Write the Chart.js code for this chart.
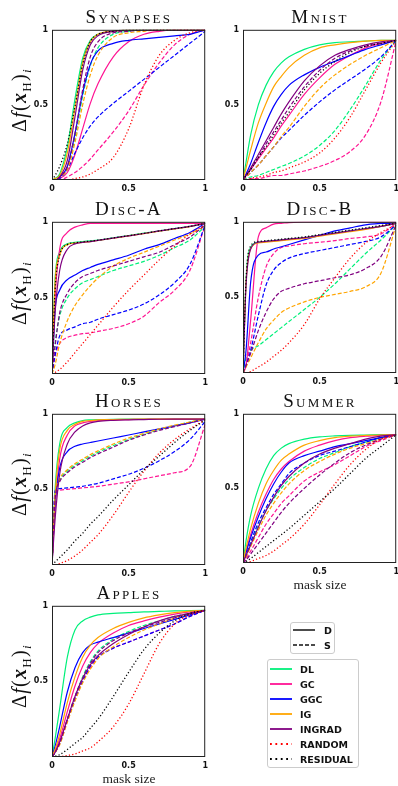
<!DOCTYPE html>
<html>
<head>
<meta charset="utf-8">
<script src="https://cdn.jsdelivr.net/npm/chart.js@4"></script>
<style>
  html, body { margin: 0; padding: 0; background: #fff; }
  body { width: 398px; height: 786px; position: relative; overflow: hidden; }
  .abs { position: absolute; }
  .title { font-family: "Liberation Serif", serif; font-size: 19px; line-height: 19px;
           font-variant: small-caps; letter-spacing: 2.3px; text-align: center; color: #111; white-space: nowrap; }
  .ylab { font-family: "Liberation Serif", serif; font-size: 20px; line-height: 22px; width: 100px; height: 22px;
          letter-spacing: 1.3px; text-align: center; transform: rotate(-90deg); white-space: nowrap; color: #111; }
  .ylab sub { font-size: 13px; }
  .xlab { font-family: "Liberation Serif", serif; font-size: 13.5px; line-height: 13px; text-align: center; color: #222; }
  .legend { border: 1px solid #ccc; border-radius: 3px; background: #fff;
            font-family: "DejaVu Sans", sans-serif; font-weight: bold; font-size: 9.5px; color: #111; }
  .legend .row { position: absolute; display: flex; align-items: center; height: 12px; }
  .legend svg { display: block; }
</style>
</head>
<body>
<script>
// x positions (mask size) the curves were read at
const X_GRID = [0, 0.02, 0.05, 0.1, 0.15, 0.2, 0.25, 0.3, 0.4, 0.5, 0.6, 0.7, 0.8, 0.9, 1];
const X_TICKS = [0, 0.5, 1];
const Y_TICKS = [0.5, 1];

const METHODS = ['DL', 'GC', 'GGC', 'IG', 'INGRAD', 'RANDOM', 'RESIDUAL'];
// row order used in every panel array below
const SERIES = [
    ['DL', 'D'], ['DL', 'S'], ['GC', 'D'], ['GC', 'S'], ['GGC', 'D'], ['GGC', 'S'],
    ['IG', 'D'], ['IG', 'S'], ['INGRAD', 'D'], ['INGRAD', 'S'], ['RANDOM', 'R'], ['RESIDUAL', 'R']
];

const synapses = [
    [0, 0.01, 0.04, 0.22, 0.54, 0.81, 0.93, 0.97, 0.99, 1, 1, 1, 1, 1, 1],
    [0, 0, 0.02, 0.08, 0.28, 0.56, 0.76, 0.88, 0.97, 0.99, 1, 1, 1, 1, 1],
    [0, 0, 0.01, 0.05, 0.17, 0.34, 0.51, 0.64, 0.82, 0.92, 0.97, 0.99, 1, 1, 1],
    [0, 0, 0, 0.02, 0.05, 0.09, 0.14, 0.2, 0.32, 0.46, 0.63, 0.78, 0.9, 0.97, 1],
    [0, 0, 0.02, 0.09, 0.31, 0.58, 0.77, 0.86, 0.91, 0.93, 0.94, 0.95, 0.96, 0.97, 1],
    [0, 0, 0.01, 0.07, 0.18, 0.28, 0.36, 0.42, 0.51, 0.59, 0.67, 0.75, 0.83, 0.91, 0.99],
    [0, 0.01, 0.03, 0.18, 0.48, 0.78, 0.92, 0.97, 0.99, 1, 1, 1, 1, 1, 1],
    [0, 0, 0.02, 0.07, 0.25, 0.5, 0.7, 0.83, 0.95, 0.98, 0.99, 1, 1, 1, 1],
    [0, 0, 0.02, 0.13, 0.42, 0.73, 0.9, 0.96, 0.99, 1, 1, 1, 1, 1, 1],
    [0, 0, 0.02, 0.09, 0.31, 0.6, 0.82, 0.92, 0.98, 0.99, 1, 1, 1, 1, 1],
    [0, 0, 0, 0, 0.01, 0.02, 0.04, 0.07, 0.15, 0.34, 0.63, 0.83, 0.93, 0.98, 1],
    [0, 0.03, 0.09, 0.24, 0.49, 0.77, 0.92, 0.97, 0.99, 1, 1, 1, 1, 1, 1]
];

const mnist = [
    [0, 0.12, 0.3, 0.5, 0.63, 0.72, 0.78, 0.82, 0.87, 0.9, 0.915, 0.92, 0.925, 0.93, 0.93],
    [0, 0.01, 0.02, 0.03, 0.05, 0.07, 0.09, 0.11, 0.16, 0.23, 0.33, 0.47, 0.63, 0.8, 0.93],
    [0, 0.03, 0.07, 0.14, 0.21, 0.28, 0.36, 0.43, 0.57, 0.68, 0.77, 0.83, 0.88, 0.91, 0.93],
    [0, 0, 0.01, 0.01, 0.02, 0.03, 0.03, 0.04, 0.06, 0.09, 0.13, 0.19, 0.3, 0.52, 0.93],
    [0, 0.04, 0.11, 0.25, 0.38, 0.49, 0.57, 0.63, 0.7, 0.75, 0.79, 0.83, 0.87, 0.9, 0.93],
    [0, 0.02, 0.05, 0.1, 0.16, 0.22, 0.28, 0.33, 0.43, 0.52, 0.6, 0.67, 0.74, 0.82, 0.93],
    [0, 0.08, 0.2, 0.38, 0.51, 0.62, 0.69, 0.75, 0.83, 0.88, 0.9, 0.915, 0.925, 0.93, 0.93],
    [0, 0.02, 0.05, 0.1, 0.16, 0.22, 0.29, 0.35, 0.49, 0.61, 0.7, 0.77, 0.83, 0.88, 0.93],
    [0, 0.03, 0.08, 0.17, 0.26, 0.35, 0.44, 0.52, 0.66, 0.76, 0.83, 0.87, 0.9, 0.92, 0.93],
    [0, 0.03, 0.07, 0.15, 0.24, 0.32, 0.4, 0.48, 0.62, 0.73, 0.81, 0.86, 0.89, 0.91, 0.93],
    [0, 0, 0.01, 0.02, 0.03, 0.05, 0.06, 0.08, 0.12, 0.18, 0.28, 0.42, 0.6, 0.78, 0.93],
    [0, 0.03, 0.07, 0.15, 0.22, 0.3, 0.38, 0.45, 0.6, 0.71, 0.79, 0.85, 0.89, 0.91, 0.93]
];

const discA = [
    [0, 0.62, 0.8, 0.855, 0.865, 0.87, 0.875, 0.88, 0.895, 0.91, 0.925, 0.94, 0.955, 0.97, 0.99],
    [0, 0.2, 0.38, 0.5, 0.56, 0.6, 0.62, 0.64, 0.68, 0.71, 0.74, 0.78, 0.83, 0.88, 0.97],
    [0, 0.5, 0.82, 0.93, 0.965, 0.98, 0.99, 0.99, 0.99, 0.99, 0.99, 0.99, 0.99, 0.99, 0.99],
    [0, 0.12, 0.2, 0.24, 0.255, 0.265, 0.27, 0.28, 0.3, 0.33, 0.38, 0.47, 0.55, 0.68, 0.98],
    [0, 0.42, 0.55, 0.62, 0.65, 0.68, 0.7, 0.72, 0.75, 0.78, 0.82, 0.85, 0.89, 0.93, 0.99],
    [0, 0.12, 0.25, 0.29, 0.31, 0.33, 0.34, 0.36, 0.39, 0.42, 0.46, 0.52, 0.6, 0.72, 0.98],
    [0, 0.6, 0.78, 0.85, 0.86, 0.865, 0.87, 0.877, 0.892, 0.907, 0.922, 0.938, 0.953, 0.968, 0.99],
    [0, 0.06, 0.2, 0.35, 0.45, 0.52, 0.58, 0.63, 0.71, 0.76, 0.8, 0.84, 0.88, 0.92, 0.97],
    [0, 0.4, 0.68, 0.82, 0.855, 0.865, 0.87, 0.878, 0.893, 0.908, 0.923, 0.94, 0.955, 0.97, 0.99],
    [0, 0.18, 0.4, 0.53, 0.6, 0.64, 0.66, 0.68, 0.71, 0.74, 0.77, 0.8, 0.85, 0.9, 0.98],
    [0, 0.01, 0.03, 0.08, 0.14, 0.2, 0.26, 0.32, 0.44, 0.55, 0.65, 0.75, 0.84, 0.92, 0.98],
    [0, 0.55, 0.78, 0.85, 0.862, 0.868, 0.873, 0.879, 0.894, 0.909, 0.924, 0.94, 0.955, 0.97, 0.99]
];

const discB = [
    [0, 0.62, 0.83, 0.865, 0.87, 0.875, 0.88, 0.885, 0.895, 0.91, 0.925, 0.94, 0.955, 0.97, 0.99],
    [0, 0.1, 0.15, 0.18, 0.22, 0.26, 0.3, 0.34, 0.42, 0.5, 0.59, 0.69, 0.79, 0.88, 0.98],
    [0, 0.05, 0.35, 0.9, 0.96, 0.985, 0.99, 0.995, 1, 1, 1, 1, 1, 1, 1],
    [0, 0.05, 0.2, 0.5, 0.7, 0.79, 0.83, 0.84, 0.855, 0.865, 0.875, 0.89, 0.9, 0.92, 0.99],
    [0, 0.15, 0.6, 0.78, 0.8, 0.82, 0.835, 0.85, 0.88, 0.91, 0.94, 0.96, 0.98, 0.99, 0.99],
    [0, 0.05, 0.15, 0.38, 0.58, 0.68, 0.73, 0.76, 0.79, 0.81, 0.83, 0.85, 0.87, 0.9, 0.98],
    [0, 0.6, 0.82, 0.86, 0.865, 0.87, 0.875, 0.88, 0.89, 0.905, 0.92, 0.935, 0.95, 0.97, 0.99],
    [0, 0.04, 0.1, 0.2, 0.29, 0.35, 0.4, 0.43, 0.47, 0.5, 0.52, 0.54, 0.57, 0.66, 0.98],
    [0, 0.58, 0.82, 0.865, 0.87, 0.875, 0.88, 0.885, 0.895, 0.91, 0.925, 0.94, 0.955, 0.97, 0.99],
    [0, 0.05, 0.13, 0.28, 0.4, 0.49, 0.54, 0.56, 0.59, 0.61, 0.63, 0.65, 0.69, 0.77, 0.98],
    [0, 0, 0.01, 0.04, 0.07, 0.11, 0.15, 0.2, 0.32, 0.49, 0.63, 0.76, 0.86, 0.93, 0.98],
    [0, 0.62, 0.84, 0.87, 0.875, 0.88, 0.885, 0.89, 0.9, 0.915, 0.93, 0.945, 0.96, 0.975, 0.99]
];

const horses = [
    [0, 0.5, 0.8, 0.91, 0.94, 0.955, 0.96, 0.962, 0.964, 0.965, 0.965, 0.965, 0.965, 0.965, 0.965],
    [0, 0.44, 0.56, 0.62, 0.66, 0.69, 0.72, 0.745, 0.79, 0.83, 0.865, 0.895, 0.92, 0.945, 0.965],
    [0, 0.38, 0.7, 0.86, 0.92, 0.94, 0.95, 0.955, 0.96, 0.962, 0.964, 0.965, 0.965, 0.965, 0.965],
    [0, 0.47, 0.495, 0.5, 0.505, 0.51, 0.515, 0.52, 0.535, 0.55, 0.57, 0.59, 0.61, 0.65, 0.93],
    [0, 0.4, 0.64, 0.75, 0.785, 0.8, 0.81, 0.82, 0.84, 0.86, 0.88, 0.9, 0.92, 0.94, 0.965],
    [0, 0.49, 0.505, 0.51, 0.515, 0.52, 0.53, 0.54, 0.57, 0.6, 0.64, 0.69, 0.75, 0.83, 0.95],
    [0, 0.45, 0.76, 0.89, 0.93, 0.95, 0.955, 0.96, 0.962, 0.964, 0.965, 0.965, 0.965, 0.965, 0.965],
    [0, 0.45, 0.57, 0.63, 0.67, 0.7, 0.73, 0.755, 0.8, 0.84, 0.87, 0.9, 0.925, 0.945, 0.965],
    [0, 0.3, 0.6, 0.8, 0.88, 0.92, 0.94, 0.95, 0.957, 0.96, 0.962, 0.964, 0.965, 0.965, 0.965],
    [0, 0.43, 0.55, 0.61, 0.65, 0.68, 0.71, 0.735, 0.78, 0.825, 0.86, 0.89, 0.915, 0.94, 0.965],
    [0, 0, 0.01, 0.03, 0.06, 0.1, 0.15, 0.2, 0.33, 0.48, 0.62, 0.74, 0.83, 0.9, 0.96],
    [0, 0.02, 0.05, 0.1, 0.16, 0.21, 0.27, 0.32, 0.43, 0.53, 0.63, 0.72, 0.81, 0.89, 0.96]
];

const summer = [
    [0, 0.15, 0.32, 0.5, 0.63, 0.72, 0.77, 0.8, 0.83, 0.845, 0.852, 0.856, 0.858, 0.86, 0.86],
    [0, 0.05, 0.13, 0.25, 0.35, 0.43, 0.5, 0.56, 0.64, 0.7, 0.74, 0.78, 0.81, 0.84, 0.86],
    [0, 0.08, 0.19, 0.34, 0.46, 0.56, 0.63, 0.68, 0.75, 0.79, 0.82, 0.84, 0.85, 0.856, 0.86],
    [0, 0.03, 0.08, 0.17, 0.26, 0.33, 0.4, 0.45, 0.55, 0.61, 0.66, 0.72, 0.78, 0.82, 0.86],
    [0, 0.07, 0.17, 0.31, 0.43, 0.53, 0.61, 0.67, 0.72, 0.75, 0.78, 0.8, 0.82, 0.84, 0.86],
    [0, 0.05, 0.14, 0.27, 0.37, 0.46, 0.53, 0.6, 0.67, 0.72, 0.75, 0.78, 0.81, 0.84, 0.86],
    [0, 0.1, 0.23, 0.4, 0.53, 0.62, 0.69, 0.73, 0.79, 0.82, 0.84, 0.85, 0.855, 0.858, 0.86],
    [0, 0.04, 0.11, 0.22, 0.32, 0.4, 0.47, 0.53, 0.62, 0.68, 0.73, 0.77, 0.8, 0.83, 0.86],
    [0, 0.05, 0.12, 0.24, 0.35, 0.44, 0.52, 0.58, 0.67, 0.73, 0.77, 0.8, 0.83, 0.85, 0.86],
    [0, 0.02, 0.06, 0.13, 0.2, 0.27, 0.34, 0.4, 0.5, 0.59, 0.67, 0.74, 0.79, 0.83, 0.86],
    [0, 0, 0.01, 0.03, 0.05, 0.08, 0.12, 0.16, 0.26, 0.39, 0.53, 0.66, 0.76, 0.83, 0.86],
    [0, 0.01, 0.03, 0.07, 0.11, 0.15, 0.19, 0.23, 0.32, 0.41, 0.5, 0.6, 0.7, 0.78, 0.86]
];

const apples = [
    [0, 0.12, 0.32, 0.66, 0.84, 0.9, 0.925, 0.94, 0.95, 0.955, 0.96, 0.963, 0.966, 0.968, 0.97],
    [0, 0.03, 0.09, 0.25, 0.4, 0.53, 0.63, 0.7, 0.78, 0.83, 0.87, 0.9, 0.93, 0.95, 0.97],
    [0, 0.04, 0.12, 0.3, 0.47, 0.6, 0.69, 0.75, 0.82, 0.87, 0.9, 0.925, 0.945, 0.96, 0.97],
    [0, 0.03, 0.09, 0.24, 0.38, 0.5, 0.59, 0.66, 0.72, 0.76, 0.8, 0.84, 0.88, 0.93, 0.97],
    [0, 0.07, 0.2, 0.43, 0.59, 0.69, 0.74, 0.76, 0.79, 0.82, 0.85, 0.88, 0.91, 0.94, 0.97],
    [0, 0.03, 0.09, 0.24, 0.38, 0.5, 0.6, 0.66, 0.72, 0.76, 0.8, 0.84, 0.88, 0.93, 0.97],
    [0, 0.05, 0.15, 0.36, 0.53, 0.66, 0.74, 0.79, 0.85, 0.89, 0.92, 0.94, 0.955, 0.965, 0.97],
    [0, 0.03, 0.08, 0.23, 0.37, 0.49, 0.58, 0.65, 0.73, 0.79, 0.84, 0.88, 0.92, 0.95, 0.97],
    [0, 0.03, 0.1, 0.25, 0.4, 0.52, 0.61, 0.67, 0.75, 0.81, 0.86, 0.9, 0.93, 0.95, 0.97],
    [0, 0.03, 0.09, 0.25, 0.4, 0.52, 0.62, 0.69, 0.77, 0.82, 0.86, 0.89, 0.92, 0.95, 0.97],
    [0, 0, 0.002, 0.01, 0.02, 0.04, 0.06, 0.1, 0.2, 0.35, 0.55, 0.75, 0.88, 0.94, 0.97],
    [0, 0.005, 0.015, 0.05, 0.09, 0.13, 0.19, 0.25, 0.4, 0.56, 0.71, 0.82, 0.9, 0.95, 0.97]
];

const COLORS = {
    DL: '#00f07a', GC: '#ff1493', GGC: '#0000ff', IG: '#ffa500',
    INGRAD: '#800080', RANDOM: '#ff0000', RESIDUAL: '#000000'
};
const DASH = { D: [], S: [4, 2], R: [1.2, 2.2] };

const framePlugin = {
    id: 'frame',
    afterDraw(chart) {
        const { ctx, chartArea: a } = chart;
        ctx.save();
        ctx.strokeStyle = '#222';
        ctx.lineWidth = 1;
        ctx.strokeRect(a.left + 0.5, a.top + 0.5, a.right - a.left - 1, a.bottom - a.top - 1);
        ctx.restore();
    }
};

const tickFont = { family: 'DejaVu Sans', weight: 'bold', size: 8 };

function addDiv(cls, html, css) {
    const d = document.createElement('div');
    d.className = 'abs ' + cls;
    d.innerHTML = html;
    Object.assign(d.style, css);
    document.body.appendChild(d);
    return d;
}

function makePanel(title, rows, L, T, W, H, maskLabel) {
    const PAD_L = 30, PAD_R = 6, PAD_T = 6, PAD_B = 16;
    const canvas = document.createElement('canvas');
    canvas.width = W + PAD_L + PAD_R;
    canvas.height = H + PAD_T + PAD_B;
    canvas.className = 'abs';
    canvas.style.left = (L - PAD_L) + 'px';
    canvas.style.top = (T - PAD_T) + 'px';
    document.body.appendChild(canvas);

    const datasets = SERIES.map(([method, kind], i) => ({
        label: method + ' ' + kind,
        data: X_GRID.map((x, k) => ({ x: x, y: rows[i][k] })),
        borderColor: COLORS[method],
        borderDash: DASH[kind],
        borderWidth: kind === 'R' ? 1.3 : 1.2,
        fill: false,
        order: SERIES.length - i
    }));

    new Chart(canvas.getContext('2d'), {
        type: 'line',
        data: { datasets },
        options: {
            responsive: false,
            animation: false,
            devicePixelRatio: 1,
            layout: { padding: { top: PAD_T, right: PAD_R, left: 0, bottom: 0 } },
            plugins: { legend: { display: false }, tooltip: { enabled: false } },
            elements: {
                point: { radius: 0 },
                line: { cubicInterpolationMode: 'monotone' }
            },
            scales: {
                x: {
                    type: 'linear', min: 0, max: 1,
                    grid: { display: false, drawTicks: false },
                    border: { display: false },
                    afterBuildTicks: s => { s.ticks = X_TICKS.map(v => ({ value: v })); },
                    afterFit: s => { s.height = PAD_B; },
                    ticks: { autoSkip: false, maxRotation: 0, padding: 4, color: '#111', font: tickFont,
                             callback: v => String(v) }
                },
                y: {
                    type: 'linear', min: 0, max: 1,
                    grid: { display: false, drawTicks: false },
                    border: { display: false },
                    afterBuildTicks: s => { s.ticks = Y_TICKS.map(v => ({ value: v })); },
                    afterFit: s => { s.width = PAD_L; },
                    ticks: { padding: 4, color: '#111', font: tickFont, callback: v => String(v) }
                }
            }
        },
        plugins: [framePlugin]
    });

    addDiv('title', title, { left: L + 'px', width: W + 'px', top: (T - 20) + 'px' });
    if (L < 100) {
        addDiv('ylab', 'Δ<i>f</i>(<b><i>x</i></b><sub>H</sub>)<sub><i>i</i></sub>',
               { left: (19 - 50) + 'px', top: (T + H / 2 - 15) + 'px' });
    }
    if (maskLabel) {
        addDiv('xlab', 'mask size', { left: L + 'px', width: W + 'px', top: (T + H + 15) + 'px' });
    }
}

makePanel('Synapses', synapses, 52, 27, 154, 153, false);
makePanel('Mnist', mnist, 243, 27, 154, 153, false);
makePanel('Disc-A', discA, 52, 219, 154, 155, false);
makePanel('Disc-B', discB, 243, 219, 154, 154, false);
makePanel('Horses', horses, 52, 411, 154, 154, false);
makePanel('Summer', summer, 243, 411, 154, 152, true);
makePanel('Apples', apples, 52, 603, 154, 154, true);

// legends
function sample(color, dash, width) {
    return `<svg width="22" height="6"><line x1="0" y1="3" x2="22" y2="3" stroke="${color}" stroke-width="${width}"` +
           (dash ? ` stroke-dasharray="${dash}"` : '') + '/></svg>';
}

const leg1 = addDiv('legend', '', { left: '290px', top: '622px', width: '43px', height: '30px' });
[['D', '', 7], ['S', '4 2', 22]].forEach(([lab, dash, y]) => {
    const r = document.createElement('div');
    r.className = 'row';
    r.style.left = '2px'; r.style.top = (y - 6) + 'px';
    r.innerHTML = sample('#111', dash, 1.5) + `<span style="margin-left:9px">${lab}</span>`;
    leg1.appendChild(r);
});

const leg2 = addDiv('legend', '', { left: '267px', top: '659px', width: '90px', height: '107px' });
METHODS.forEach((m, i) => {
    const dotted = m === 'RANDOM' || m === 'RESIDUAL';
    const r = document.createElement('div');
    r.className = 'row';
    r.style.left = '2px'; r.style.top = (9 + i * 15 - 6) + 'px';
    r.innerHTML = sample(COLORS[m], dotted ? '1.8 3.6' : '', 1.8) + `<span style="margin-left:8px">${m}</span>`;
    leg2.appendChild(r);
});
</script>
</body>
</html>
